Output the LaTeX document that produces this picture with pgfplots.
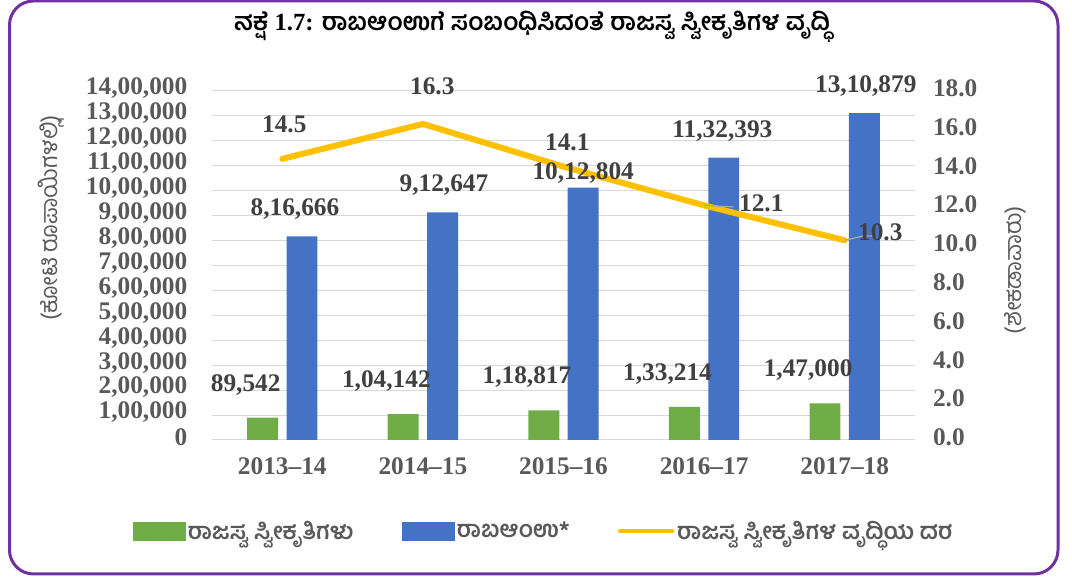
\documentclass[border=0pt]{standalone}
\usepackage{fontspec}
\setmainfont{Liberation Serif}
\newfontfamily\kan[Script=Kannada]{Hind Mysuru}
\usepackage{pgfplots}
\pgfplotsset{compat=1.18}
\definecolor{gridc}{HTML}{D9D9D9}
\definecolor{tickc}{HTML}{595959}
\definecolor{labc}{HTML}{404040}
\definecolor{barg}{HTML}{70AD47}
\definecolor{barb}{HTML}{4472C4}
\definecolor{linec}{HTML}{FFC000}
\definecolor{framec}{HTML}{7030A0}

\begin{document}
\begin{tikzpicture}
\useasboundingbox (0,0) rectangle (804pt,432.75pt);
\draw[framec, line width=2.25pt, rounded corners=18pt] (7.125pt,2.25pt) rectangle (793.5pt,432pt);

\node[font=\fontsize{18.5}{22}\selectfont\bfseries] at (399pt,412.5pt)
  {{\kan ನಕ್ಷೆ} 1.7: {\kan ರಾಬಆಂಉಗೆ ಸಂಬಂಧಿಸಿದಂತೆ ರಾಜಸ್ವ ಸ್ವೀಕೃತಿಗಳ ವೃದ್ಧಿ}};
\node[rotate=90, font=\kan\fontsize{17.5}{20}\selectfont, text=tickc] at (38.5pt,269.25pt) {(ಕೋಟಿ ರೂಪಾಯಿಗಳಲ್ಲಿ)};
\node[rotate=90, font=\kan\fontsize{17.5}{20}\selectfont, text=tickc] at (761.25pt,230.25pt) {(ಶೇಕಡಾವಾರು)};

% bars, left axis
\begin{axis}[
    at={(159pt,102.75pt)}, anchor=south west,
    scale only axis, width=527.25pt, height=261.75pt,
    xmin=-0.5, xmax=4.5, ymin=0, ymax=1400000,
    clip=false,
    axis line style={draw=none},
    major tick length=0pt,
    xtick={0,1,2,3,4},
    xticklabels={2013–14,2014–15,2015–16,2016–17,2017–18},
    ytick={0,100000,200000,300000,400000,500000,600000,700000,800000,900000,1000000,1100000,1200000,1300000,1400000},
    yticklabels={0,{1,00,000},{2,00,000},{3,00,000},{4,00,000},{5,00,000},{6,00,000},{7,00,000},{8,00,000},{9,00,000},{10,00,000},{11,00,000},{12,00,000},{13,00,000},{14,00,000}},
    scaled y ticks=false,
    ymajorgrids,
    major grid style={gridc, line width=0.75pt},
    tick label style={font=\fontsize{19}{21}\selectfont\bfseries, text=tickc},
    yticklabel style={xshift=-15pt, yshift=2pt},
    xticklabel style={yshift=-10pt},
]
\addplot[ybar, bar width=0.22, bar shift=-0.14, fill=barg, draw=none]
  coordinates {(0,89542)(1,104142)(2,118817)(3,133214)(4,147000)};
\addplot[ybar, bar width=0.22, bar shift=0.14, fill=barb, draw=none]
  coordinates {(0,816666)(1,912647)(2,1012804)(3,1132393)(4,1310879)};
\end{axis}

% growth rate, right axis; all data labels are set here so that they lie on top
\begin{axis}[
    at={(159pt,102.75pt)}, anchor=south west,
    scale only axis, width=527.25pt, height=261.75pt,
    xmin=-0.5, xmax=4.5, ymin=0, ymax=18,
    clip=false,
    axis line style={draw=none},
    major tick length=0pt,
    xtick=\empty,
    ytick={0,2,4,6,8,10,12,14,16,18},
    yticklabels={0.0,2.0,4.0,6.0,8.0,10.0,12.0,14.0,16.0,18.0},
    yticklabel pos=right,
    tick label style={font=\fontsize{19}{21}\selectfont\bfseries, text=tickc},
    yticklabel style={xshift=10pt, yshift=2pt},
    nodes near coords style={anchor=center, font=\fontsize{19}{21}\selectfont\bfseries, text=labc},
    legend columns=3,
    legend cell align=left,
    legend style={at={(0.472,-0.261)}, anchor=center, draw=none, fill=none,
      font=\kan\bfseries\fontsize{17.4}{20}\selectfont, text=tickc,
      /tikz/every even column/.append style={column sep=34pt}},
]
\addlegendimage{legend image code/.code={\fill[barg] (0pt,-6.75pt) rectangle (39pt,6.75pt);}}
\addlegendentry{ರಾಜಸ್ವ ಸ್ವೀಕೃತಿಗಳು}
\addlegendimage{legend image code/.code={\fill[barb] (0pt,-6.75pt) rectangle (39pt,6.75pt);}}
\addlegendentry{ರಾಬಆಂಉ*}
\addplot[linec, line width=4.5pt, line cap=round, line join=round, mark=none,
  legend image code/.code={\draw[linec, line width=3.5pt, line cap=round] (0pt,0pt) -- (39pt,0pt);}]
  coordinates {(0,14.5)(1,16.3)(2,14.1)(3,12.1)(4,10.3)};
\addlegendentry{ರಾಜಸ್ವ ಸ್ವೀಕೃತಿಗಳ ವೃದ್ಧಿಯ ದರ}

% leader lines
\addplot[forget plot, gray!70, line width=0.9pt, mark=none] coordinates {(3.0,12.1)(3.21,12.02)};
\addplot[forget plot, gray!70, line width=0.9pt, mark=none] coordinates {(4.0,10.3)(4.13,10.52)(4.21,10.52)};

% line labels
\addplot[forget plot, draw=none, mark=none, nodes near coords, point meta=explicit symbolic] table[meta=l] {
x y l
0.014 16.30 14.5
1.067 18.26 16.3
2.027 15.37 14.1
3.407 12.22 12.1
4.253 10.73 10.3
};
% green bar labels (positions in right-axis units)
\addplot[forget plot, draw=none, mark=none, nodes near coords, point meta=explicit symbolic] table[meta=l] {
x y l
-0.26 2.854 89,542
0.74 3.041 1,04,142
1.74 3.230 1,18,817
2.74 3.415 1,33,214
3.74 3.592 1,47,000
};
% blue bar labels
\addplot[forget plot, draw=none, mark=none, nodes near coords, point meta=explicit symbolic] table[meta=l] {
x y l
0.09 11.893 8,16,666
1.15 13.126 9,12,647
2.14 13.793 10,12,804
3.13 15.952 11,32,393
4.15 18.247 13,10,879
};
\end{axis}
\end{tikzpicture}
\end{document}
